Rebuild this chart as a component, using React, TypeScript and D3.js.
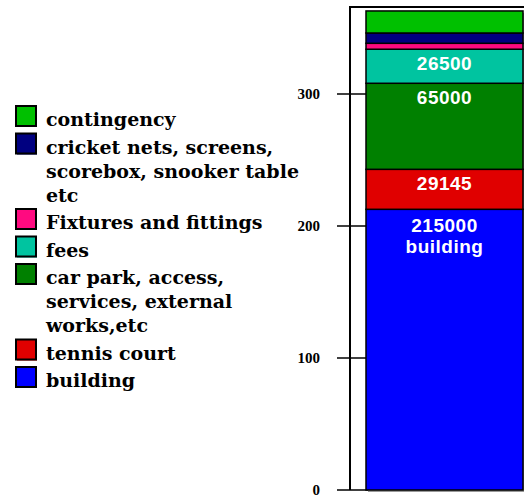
import * as d3 from 'd3';
import { useEffect, useRef } from 'react';

const WIDTH = 524;
const HEIGHT = 497;

// stack order, bottom to top (values in thousands as drawn)
const categories = [
    'building',
    'tennis court',
    'car park, access, services, external works,etc',
    'fees',
    'Fixtures and fittings',
    'cricket nets, screens, scorebox, snooker table etc',
    'contingency',
];
const values = [212.7, 30.3, 65.2, 25.8, 4.5, 7.8, 16.7];
const colors = ['#0000ff', '#e00000', '#008000', '#00c4a0', '#ff0a80', '#000080', '#00c000'];
const barLabels: string[][] = [['215000', 'building'], ['29145'], ['65000'], ['26500'], [], [], []];
const legendLines: string[][] = [
    ['building'],
    ['tennis court'],
    ['car park, access,', 'services, external', 'works,etc'],
    ['fees'],
    ['Fixtures and fittings'],
    ['cricket nets, screens,', 'scorebox, snooker table', 'etc'],
    ['contingency'],
];
const yTicks = [0, 100, 200, 300];
const yMax = 366;

const App: React.FC = () => {
    const svgRef = useRef<SVGSVGElement | null>(null);

    useEffect(() => {
        if (!svgRef.current) return;
        const svg = d3.select(svgRef.current);
        svg.selectAll('*').remove();

        const plot = { left: 350, top: 7, bottom: 490, right: WIDTH };
        const bar = { x0: 366, x1: 523 };

        const yScale = d3.scaleLinear().domain([0, yMax]).range([plot.bottom, plot.top]);

        // stacked segments
        let acc = 0;
        const segs = values.map((v, i) => {
            const s = { i, y0: acc, y1: acc + v };
            acc += v;
            return s;
        });

        // grid / ticks (they run under the bar)
        svg.append('g')
            .selectAll('line')
            .data(yTicks)
            .join('line')
            .attr('x1', plot.left - 13)
            .attr('x2', plot.right)
            .attr('y1', (d) => yScale(d))
            .attr('y2', (d) => yScale(d))
            .attr('stroke', '#000')
            .attr('stroke-width', 1.5);

        svg.append('g')
            .selectAll('text')
            .data(yTicks)
            .join('text')
            .attr('x', 320)
            .attr('y', (d) => yScale(d) + 5)
            .attr('text-anchor', 'end')
            .style('font-family', '"Liberation Serif", serif')
            .style('font-weight', 'bold')
            .style('font-size', '15px')
            .text((d) => d);

        // frame
        svg.append('path')
            .attr('d', `M${plot.right},${plot.top}H${plot.left}V${plot.bottom}`)
            .attr('fill', 'none')
            .attr('stroke', '#000')
            .attr('stroke-width', 2);

        // bar shadow
        svg.append('rect')
            .attr('x', bar.x0 + 2)
            .attr('y', yScale(acc) + 2)
            .attr('width', bar.x1 - bar.x0)
            .attr('height', yScale(0) - yScale(acc))
            .attr('fill', '#999');

        svg.append('g')
            .selectAll('rect')
            .data(segs)
            .join('rect')
            .attr('x', bar.x0)
            .attr('y', (d) => yScale(d.y1))
            .attr('width', bar.x1 - bar.x0)
            .attr('height', (d) => yScale(d.y0) - yScale(d.y1))
            .attr('fill', (d) => colors[d.i])
            .attr('stroke', '#000')
            .attr('stroke-width', 1.5);

        const cx = (bar.x0 + bar.x1) / 2;
        segs.forEach((s) => {
            const lines = barLabels[s.i];
            const first = lines.length > 1 ? 23 : 21;
            lines.forEach((t, j) => {
                svg.append('text')
                    .attr('x', cx)
                    .attr('y', yScale(s.y1) + first + j * 21)
                    .attr('text-anchor', 'middle')
                    .attr('fill', '#fff')
                    .style('font-family', '"Liberation Sans", Arial, sans-serif')
                    .style('font-weight', 'bold')
                    .style('font-size', '19px')
                    .style('letter-spacing', '0.5px')
                    .text(t);
            });
        });

        // legend, top item first
        const legend = svg.append('g');
        let baseY = 126;
        for (let i = categories.length - 1; i >= 0; i--) {
            const lines = legendLines[i];
            legend.append('rect')
                .attr('x', 17)
                .attr('y', baseY - 19)
                .attr('width', 20)
                .attr('height', 20)
                .attr('fill', colors[i]);
            legend.append('rect')
                .attr('x', 16)
                .attr('y', baseY - 20)
                .attr('width', 20)
                .attr('height', 20)
                .attr('fill', colors[i])
                .attr('stroke', '#000')
                .attr('stroke-width', 2);
            lines.forEach((t, j) => {
                legend.append('text')
                    .attr('x', 46)
                    .attr('y', baseY + j * 24)
                    .style('font-family', '"DejaVu Serif", serif')
                    .style('font-weight', 'bold')
                    .style('font-size', '19px')
                    .text(t);
            });
            baseY += (lines.length - 1) * 24 + 27.5;
        }
    }, []);

    return (
        <svg
            ref={svgRef}
            width={WIDTH}
            height={HEIGHT}
            style={{ position: 'absolute', left: 0, top: 0, background: '#fff', display: 'block' }}
        ></svg>
    );
};

export default App;
